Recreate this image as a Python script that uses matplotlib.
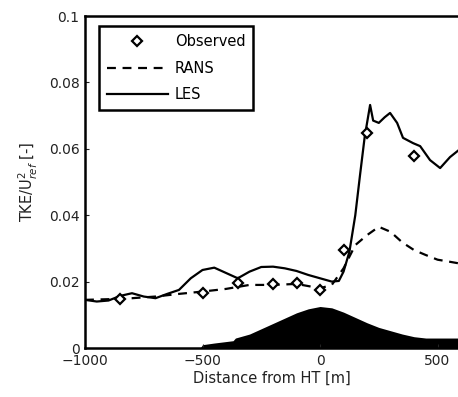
import numpy as np
import matplotlib
matplotlib.use('Agg')
import matplotlib.pyplot as plt

# observed TKE
obs_x = [-850, -500, -350, -200, -100, 0, 100, 200, 400]
obs_y = [0.0148, 0.0166, 0.0196, 0.0193, 0.0196, 0.0175, 0.0295, 0.0648, 0.0578]

# RANS
rans_x = [-1000, -900, -800, -700, -600, -500, -400, -300, -200, -100, 0, 50, 100, 150, 200, 250, 300, 350, 400, 450, 500, 550, 590]
rans_y = [0.0145, 0.0147, 0.015, 0.0155, 0.0163, 0.017, 0.0178, 0.019, 0.019, 0.0193, 0.018, 0.019, 0.024, 0.031, 0.034, 0.0365, 0.035, 0.0318, 0.0295, 0.028, 0.0266, 0.026, 0.0255]

# LES
les_x = [-1000, -950, -900, -850, -800, -750, -700, -650, -600, -550, -500, -450, -400, -350, -300, -250, -200,
         -150, -100, -50, 0, 50, 80, 100, 125, 150, 170, 190, 213, 226, 250, 275, 298, 328, 353, 396, 426, 468,
         511, 553, 590]
les_y = [0.0145, 0.014, 0.0143, 0.0157, 0.0165, 0.0155, 0.015, 0.0163, 0.0175, 0.021, 0.0235, 0.0242, 0.0226,
         0.021, 0.023, 0.0244, 0.0245, 0.024, 0.0232, 0.022, 0.021, 0.02, 0.0202, 0.023, 0.029, 0.040, 0.052,
         0.0636, 0.0732, 0.0685, 0.0678, 0.0695, 0.0708, 0.0678, 0.0633, 0.0617, 0.0608, 0.0566, 0.0542, 0.0575,
         0.0596]

# terrain (hill) silhouette
ter_x = [-1000, -510, -500, -450, -370, -360, -300, -250, -200, -150, -100, -50, 0, 50, 100, 150, 200, 250, 300,
         350, 400, 450, 500, 590]
ter_h = [0, 0, 0.001, 0.0015, 0.0022, 0.003, 0.0042, 0.0058, 0.0074, 0.009, 0.0106, 0.0118, 0.0125, 0.0121,
         0.0108, 0.0092, 0.0076, 0.0062, 0.0052, 0.0042, 0.0034, 0.003, 0.003, 0.003]

xticks = [-1000, -500, 0, 500]
yticks = [0, 0.02, 0.04, 0.06, 0.08, 0.1]
yticklabels = ['0', '0.02', '0.04', '0.06', '0.08', '0.1']

fig = plt.figure(figsize=(4.58, 3.97), dpi=100)
ax = fig.add_axes([85/458, 49/397, 1 - 85/458, 332/397])

ax.fill_between(ter_x, 0, ter_h, color='black', lw=0)
ax.plot(rans_x, rans_y, 'k--', lw=1.6, dashes=(4, 3), label='RANS')
ax.plot(les_x, les_y, 'k-', lw=1.6, label='LES')
ax.plot(obs_x, obs_y, 'D', ms=5.5, mfc='white', mec='black', mew=1.6, label='Observed')

ax.set_xlim(-1000, 587)
ax.set_ylim(0, 0.1)
ax.set_xticks(xticks)
ax.set_yticks(yticks)
ax.set_yticklabels(yticklabels)
ax.tick_params(direction='in', length=3, labelsize=10, colors='#222222', pad=4)
for s in ['left', 'bottom', 'top']:
    ax.spines[s].set_linewidth(1.8)
ax.spines['right'].set_visible(False)

ax.set_xlabel('Distance from HT [m]', fontsize=10.5, color='#222222', labelpad=2)
ax.set_ylabel(r'TKE/U$^2_{ref}$ [-]', fontsize=10.5, color='#222222', labelpad=6)

h, l = ax.get_legend_handles_labels()
leg = ax.legend([h[2], h[0], h[1]], [l[2], l[0], l[1]], loc='upper left', bbox_to_anchor=(0.037, 0.97),
                borderaxespad=0, fancybox=False, framealpha=1, edgecolor='black', fontsize=10.5,
                handlelength=4.2, handletextpad=0.45, labelspacing=0.8, borderpad=0.55)
leg.get_frame().set_linewidth(1.8)

fig.savefig('out.png', dpi=100)
